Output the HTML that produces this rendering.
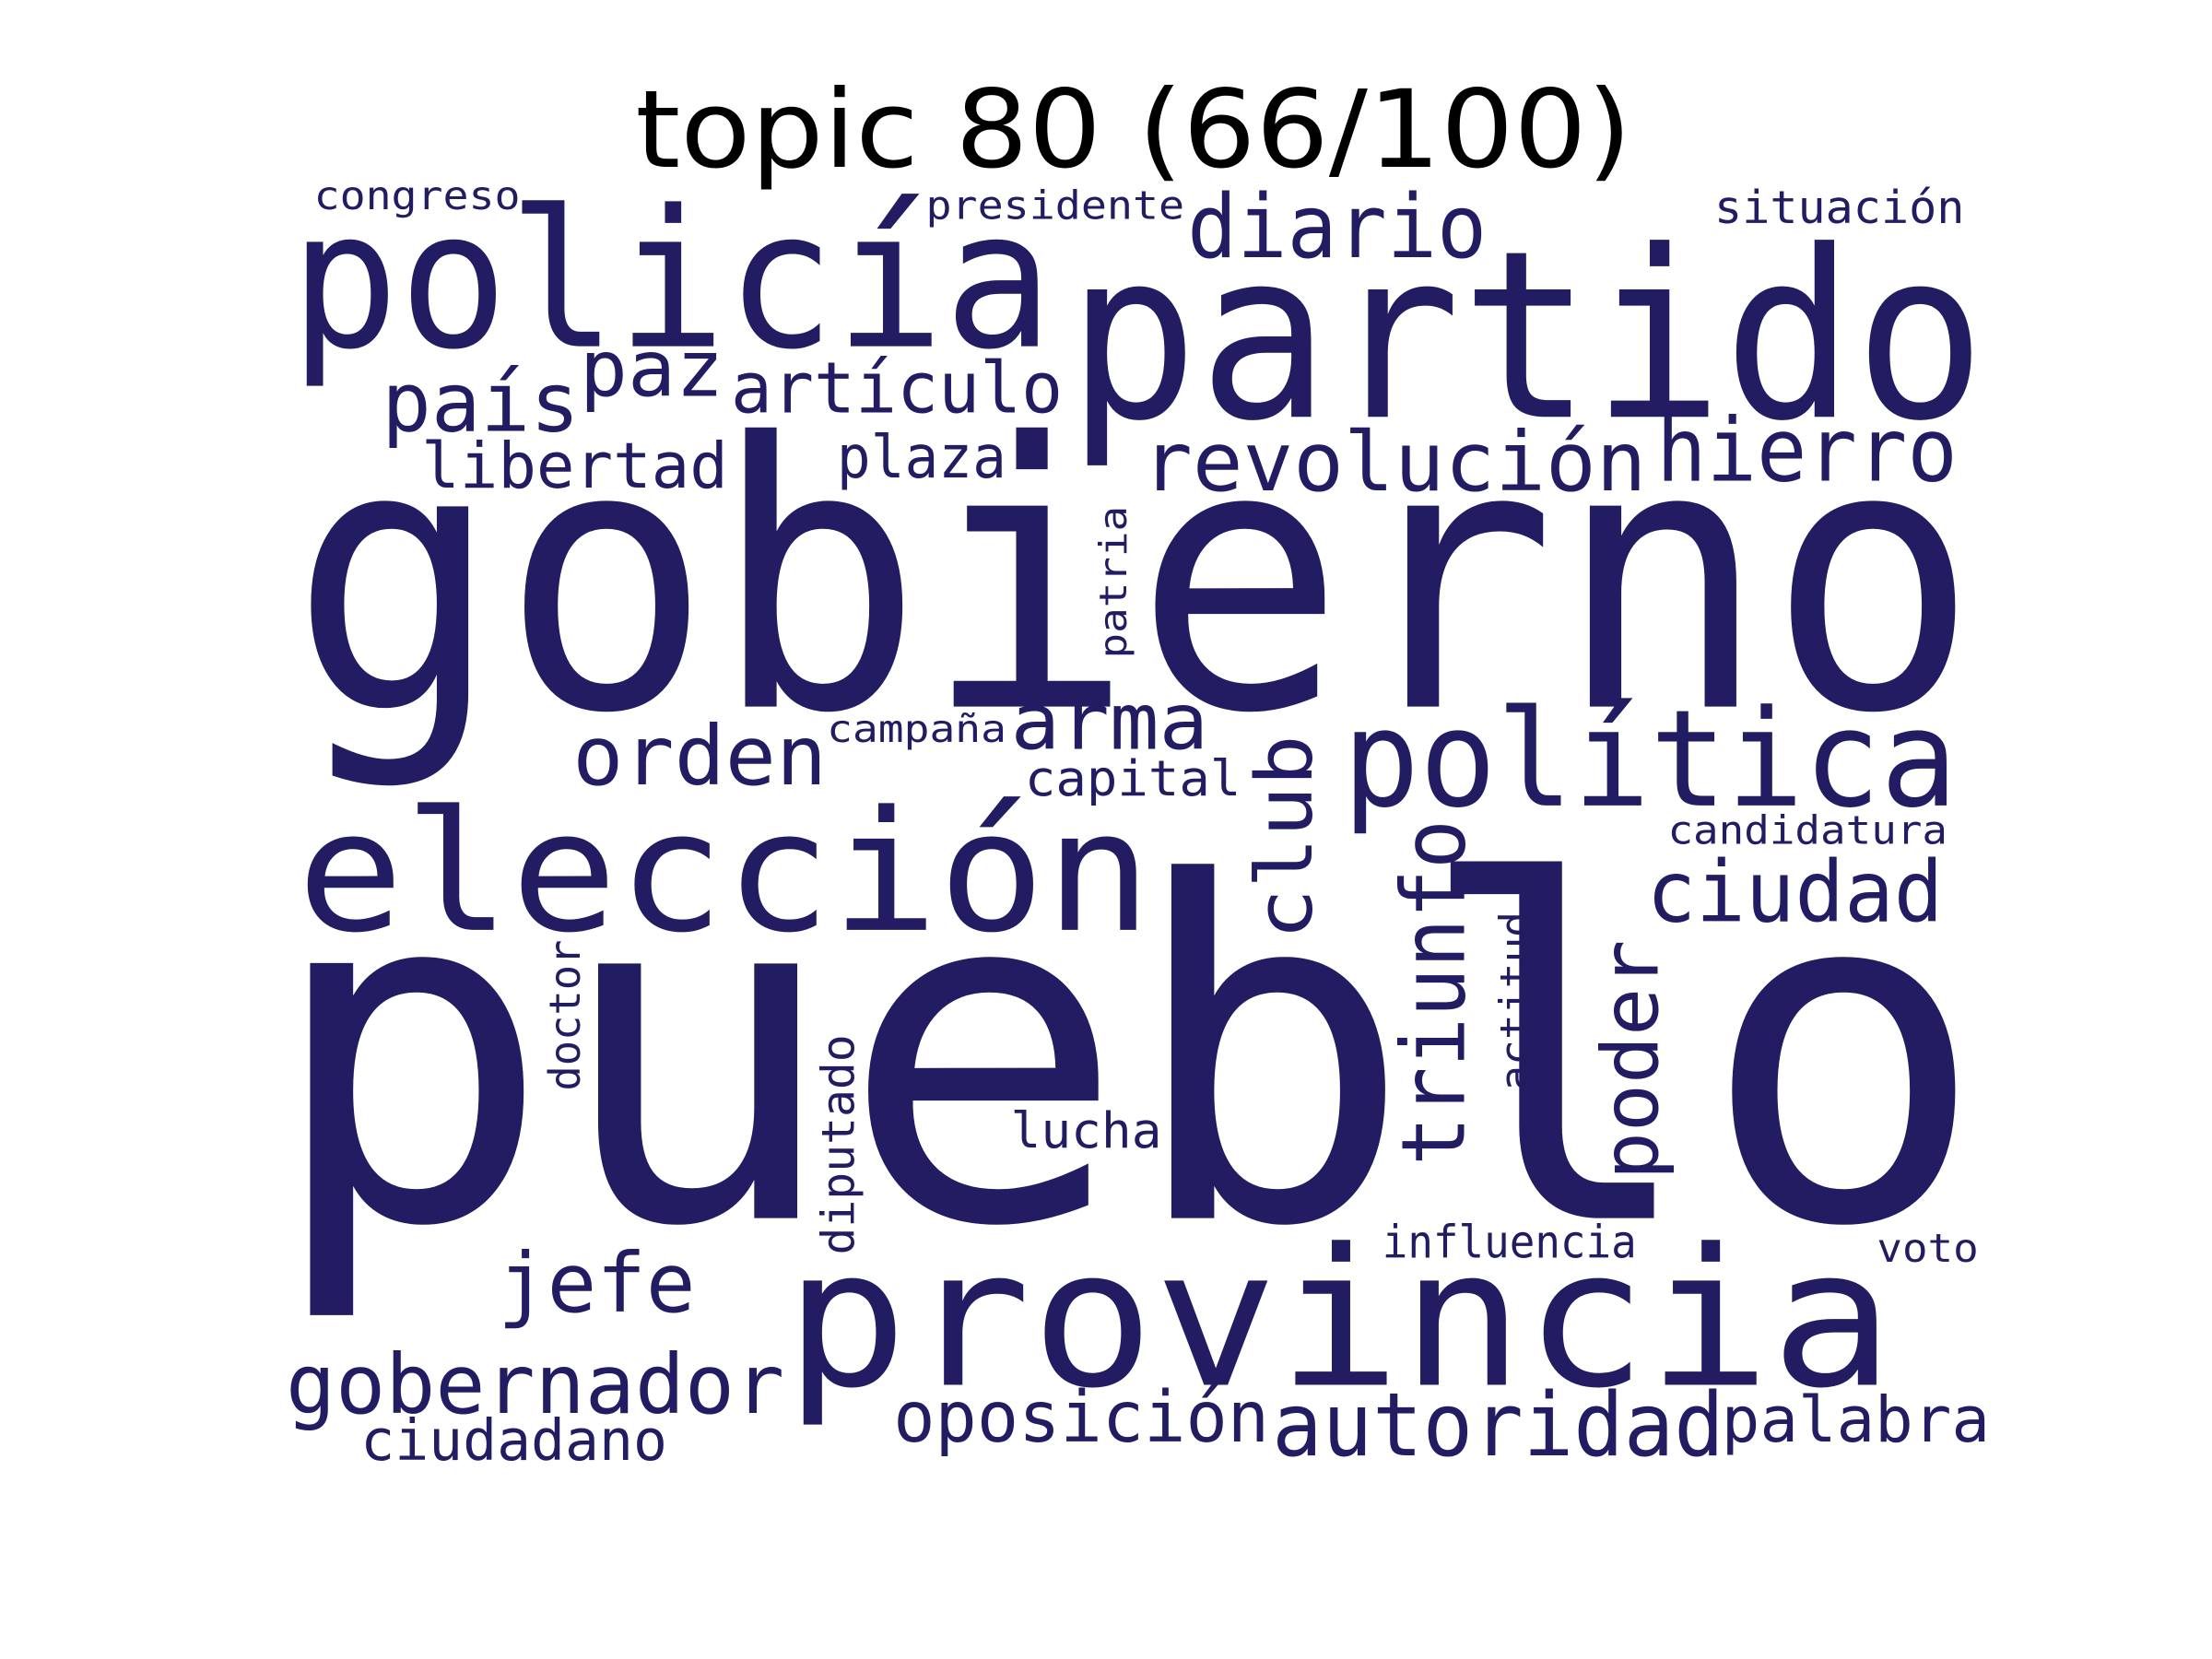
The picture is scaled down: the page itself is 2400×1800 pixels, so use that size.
<!DOCTYPE html>
<html><head><meta charset="utf-8">
<style>
html,body{margin:0;padding:0;background:#fff;}
svg{display:block;}
</style></head>
<body>
<svg id="cloud" width="2400" height="1800" viewBox="0 0 1565 1174" xmlns="http://www.w3.org/2000/svg">
<rect width="1565" height="1174" fill="#ffffff"/>
<text x="802" y="118" text-anchor="middle" font-family="DejaVu Sans, Liberation Sans, sans-serif" font-size="76" fill="#000" textLength="705" lengthAdjust="spacingAndGlyphs">topic 80 (66/100)</text>
<g id="words"></g>
</svg>
<script>
const words = ["pueblo","gobierno","partido","policía","elección","provincia","política","diario","país","paz","artículo","libertad","plaza","revolución","hierro","orden","campaña","arma","capital","club","triunfo","ciudad","candidatura","poder","actitud","doctor","diputado","patria","lucha","influencia","voto","jefe","gobernador","ciudadano","oposición","autoridad","palabra","congreso","presidente","situación"];
const fontSizes = [330,260,165,135,118,135,95,62,58,55,50,45,42,58,62,58,27,55,35,55,62,60,28,55,30,30,32,27,35,32,28,58,58,40,50,62,45,28,28,32];
// layout: [x, baselineY, length, rotated(1=vertical)]
const layoutX = [188,205,755,205,210,555,950,840,270,410,517,298,592,808,1172,405,585,715,725,928,1036,1165,1180,1173,1083,410,604,797,715,978,1328,352,202,255,632,900,1218,222,655,1213];
const layoutY = [862,500,295,245,658,980,570,182,305,280,292,345,338,347,340,555,525,530,563,665,825,652,597,835,772,772,888,466,812,890,893,928,1000,1033,1020,1030,1020,148,155,158];
const layoutLen = [1218,1195,650,540,605,785,435,212,140,102,235,217,120,357,213,180,127,140,153,145,245,210,198,170,127,107,156,108,107,180,72,140,353,217,266,320,190,146,183,177];
const layoutRot = [0,0,0,0,0,0,0,0,0,0,0,0,0,0,0,0,0,0,0,1,1,0,0,1,1,1,1,1,0,0,0,0,0,0,0,0,0,0,0,0];
const g = document.getElementById('words');
const NS = "http://www.w3.org/2000/svg";
for (let i = 0; i < words.length; i++) {
  const t = document.createElementNS(NS, 'text');
  
  
  t.setAttribute('font-family', 'DejaVu Sans Mono, Liberation Mono, monospace');
  t.setAttribute('font-size', fontSizes[i]);
  t.setAttribute('fill', '#221c62');
  t.setAttribute('textLength', layoutLen[i]);
  t.setAttribute('lengthAdjust', 'spacingAndGlyphs');
  if (layoutRot[i]) {
    t.setAttribute('x', 0);
    t.setAttribute('y', 0);
    t.setAttribute('transform', 'translate(' + layoutX[i] + ',' + layoutY[i] + ') rotate(-90)');
  } else {
    t.setAttribute('x', layoutX[i]);
    t.setAttribute('y', layoutY[i]);
  }
  t.textContent = words[i];
  g.appendChild(t);
}
</script>
</body></html>
